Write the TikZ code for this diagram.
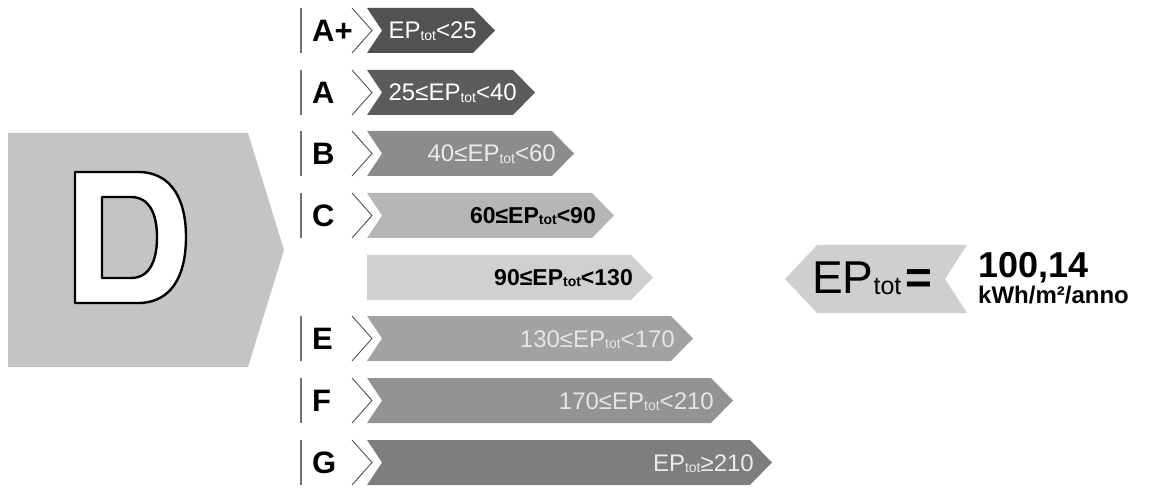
\documentclass[tikz,border=0pt]{standalone}
\usepackage{fontspec}
\setmainfont{Liberation Sans}
\definecolor{cAp}{HTML}{525252}
\definecolor{cA}{HTML}{5C5C5C}
\definecolor{cB}{HTML}{8C8C8C}
\definecolor{cC}{HTML}{B6B6B6}
\definecolor{cD}{HTML}{D0D0D0}
\definecolor{cE}{HTML}{A2A2A2}
\definecolor{cF}{HTML}{939393}
\definecolor{cG}{HTML}{7E7E7E}
\definecolor{cPanel}{HTML}{C4C4C4}
\definecolor{cArrow}{HTML}{CFCFCF}
\newcommand\subt[2]{\raisebox{#1}{\fontsize{#2}{#2}\selectfont tot}}
% #1 top, #2 tip x, #3 colour
\newcommand\ebar[3]{%
  \fill[#3] (367,#1) -- ({#2-22},#1) -- (#2,{#1+22.5}) -- ({#2-22},{#1+45})
    -- (367,{#1+45}) -- (382,{#1+22.5}) -- cycle;
  \draw[chev] (352,#1) -- (372,{#1+22.5}) -- (352,{#1+45});
  \draw[sepline] (301,#1) -- (301,{#1+45});
}
\begin{document}
\begin{tikzpicture}[x=1pt,y=-1pt,
  chev/.style={line width=0.9pt, draw=black!70, line join=miter},
  sepline/.style={line width=1.4pt, draw=black!55},
  letter/.style={font=\fontsize{31}{31}\selectfont\bfseries, anchor=base west, inner sep=0pt},
  lablight/.style={font=\fontsize{24}{24}\selectfont, anchor=base east, inner sep=0pt},
  labbold/.style={font=\fontsize{23}{23}\selectfont\bfseries, anchor=base east, inner sep=0pt, text=black},
]
\path[use as bounding box] (0,0) rectangle (1157,489);

% big class panel
\fill[cPanel] (8,133) -- (248,133) -- (284,250) -- (248,367) -- (8,367) -- cycle;
% outlined D
\path[fill=white, draw=black, line width=2.4pt, even odd rule, line join=round]
  (75,172) -- (138,172) .. controls (172,172) and (186,200) .. (186,237)
  .. controls (186,275) and (172,303) .. (138,303) -- (75,303) -- cycle
  (102,197) -- (131,197) .. controls (150,197) and (157,215) .. (157,237)
  .. controls (157,260) and (150,278) .. (131,278) -- (102,278) -- cycle;

% scale bars
\ebar{8}{495}{cAp}
\ebar{70}{535}{cA}
\ebar{131}{574}{cB}
\ebar{193}{614}{cC}
\fill[cD] (367,255) -- (631,255) -- (653,277.5) -- (631,300) -- (367,300) -- cycle;
\ebar{316}{693}{cE}
\ebar{378}{733}{cF}
\ebar{440}{772}{cG}

% class letters
\node[letter] (lAp) at (312,41.5) {A+};
\node[letter] (lA)  at (312,103.5) {A};
\node[letter] (lB)  at (312,164.5) {B};
\node[letter] (lC)  at (312,226.5) {C};
\node[letter] (lE)  at (312,349.5) {E};
\node[letter] (lF)  at (312,411.5) {F};
\node[letter] (lG)  at (312,473.5) {G};

% bar labels
\node[lablight, text=white] (tAp) at (477,39) {EP\subt{-1.5pt}{14}<25};
\node[lablight, text=white] (tA)  at (517,101) {25≤EP\subt{-1.5pt}{14}<40};
\node[lablight, text=white!92!black] (tB)  at (556,162) {40≤EP\subt{-1.5pt}{14}<60};
\node[labbold] (tC)  at (596,223.5) {60≤EP\subt{-1.5pt}{14}<90};
\node[labbold] (tD)  at (633,285.5) {90≤EP\subt{-1.5pt}{14}<130};
\node[lablight, text=white!90!black] (tE)  at (675,347) {130≤EP\subt{-1.5pt}{14}<170};
\node[lablight, text=white!90!black] (tF)  at (714,409) {170≤EP\subt{-1.5pt}{14}<210};
\node[lablight, text=white!92!black] (tG)  at (754,471) {EP\subt{-1.5pt}{14}≥210};

% result arrow
\fill[cArrow] (785,279) -- (817,245) -- (967,245) -- (945,279) -- (967,313) -- (817,313) -- cycle;
\node[inner sep=0pt, anchor=base west, font=\fontsize{46}{46}\selectfont] (ep) at (812,294)
  {EP\subt{-1pt}{25}\hspace{4pt}{\bfseries =}};
\node[inner sep=0pt, anchor=base west, font=\fontsize{36}{36}\selectfont\bfseries] (val) at (978,278) {100,14};
\node[inner sep=0pt, anchor=base west, font=\fontsize{24}{24}\selectfont\bfseries] (unit) at (978,303) {kWh/m²/anno};
\end{tikzpicture}
\end{document}
